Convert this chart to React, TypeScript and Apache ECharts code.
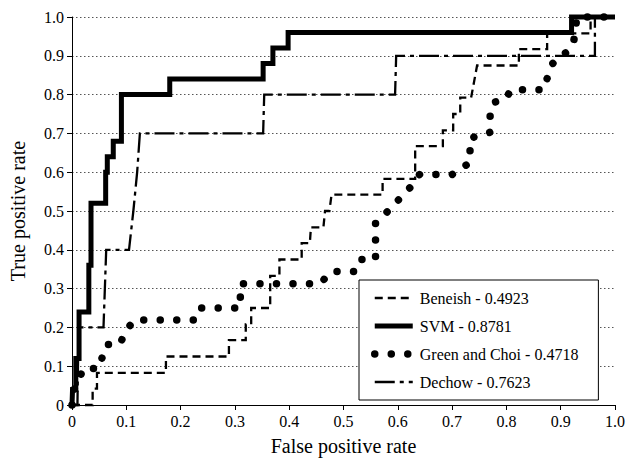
import React, { useEffect, useRef } from "react";
import * as echarts from "echarts";

const FONT = "Liberation Serif";

const legendNames = [
  "Beneish - 0.4923",
  "SVM - 0.8781",
  "Green and Choi - 0.4718",
  "Dechow - 0.7623",
];

const beneishFpr = [0, 0.038, 0.038, 0.046, 0.046, 0.173, 0.173, 0.289, 0.289, 0.32, 0.32, 0.33, 0.33, 0.365, 0.365, 0.382, 0.382, 0.423, 0.423, 0.438, 0.44, 0.463, 0.466, 0.474, 0.478, 0.572, 0.572, 0.632, 0.632, 0.683, 0.683, 0.702, 0.702, 0.715, 0.715, 0.735, 0.746, 0.823, 0.823, 0.875, 0.875, 0.955, 0.955, 1.0];
const beneishTpr = [0, 0, 0.042, 0.042, 0.083, 0.083, 0.125, 0.125, 0.167, 0.167, 0.208, 0.208, 0.25, 0.25, 0.333, 0.333, 0.375, 0.375, 0.417, 0.417, 0.458, 0.458, 0.5, 0.5, 0.542, 0.542, 0.583, 0.583, 0.667, 0.667, 0.708, 0.708, 0.75, 0.75, 0.792, 0.792, 0.875, 0.875, 0.917, 0.917, 0.958, 0.958, 1.0, 1.0];

const svmFpr = [0, 0.001, 0.007, 0.007, 0.013, 0.013, 0.031, 0.031, 0.035, 0.035, 0.062, 0.062, 0.065, 0.065, 0.076, 0.076, 0.091, 0.091, 0.18, 0.18, 0.352, 0.352, 0.37, 0.37, 0.398, 0.398, 0.92, 0.92, 1.0];
const svmTpr = [0, 0.04, 0.04, 0.12, 0.12, 0.24, 0.24, 0.36, 0.36, 0.52, 0.52, 0.6, 0.6, 0.64, 0.64, 0.68, 0.68, 0.8, 0.8, 0.84, 0.84, 0.88, 0.88, 0.92, 0.92, 0.96, 0.96, 1.0, 1.0];

const greenFpr = [0, 0, 0.013, 0.02, 0.05, 0.056, 0.063, 0.088, 0.098, 0.114, 0.224, 0.233, 0.31, 0.31, 0.457, 0.477, 0.521, 0.53, 0.559, 0.559, 0.582, 0.624, 0.64, 0.7, 0.733, 0.733, 0.77, 0.77, 0.776, 0.799, 0.808, 0.869, 0.882, 0.896, 0.914, 0.924, 0.93, 1.0];
const greenTpr = [0, 0.031, 0.0625, 0.094, 0.094, 0.125, 0.156, 0.156, 0.1875, 0.219, 0.219, 0.25, 0.25, 0.3125, 0.3125, 0.344, 0.344, 0.375, 0.375, 0.469, 0.5, 0.5625, 0.594, 0.594, 0.625, 0.6875, 0.703, 0.75, 0.78, 0.788, 0.8125, 0.8125, 0.875, 0.896, 0.912, 0.937, 1.0, 1.0];

const dechowFpr = [0, 0.01, 0.012, 0.058, 0.063, 0.105, 0.113, 0.12, 0.125, 0.352, 0.354, 0.595, 0.597, 0.963, 0.963, 1.0];
const dechowTpr = [0, 0, 0.2, 0.2, 0.4, 0.4, 0.5, 0.6, 0.7, 0.7, 0.8, 0.8, 0.9, 0.9, 1.0, 1.0];

const xTicks = [0, 0.1, 0.2, 0.3, 0.4, 0.5, 0.6, 0.7, 0.8, 0.9, 1.0];

const zip = (a: number[], b: number[]) => a.map((v, i) => [v, b[i]]);
const fmt = (v: number) => (v === 0 ? "0" : v.toFixed(1));

export default function App() {
  const ref = useRef<HTMLDivElement>(null);
  useEffect(() => {
    document.body.style.margin = "0";
    if (!ref.current) return;
    const chart = echarts.init(ref.current, undefined, { renderer: "svg" });
    const styles = [
      { width: 2.3, type: [8, 5] as any, cap: "butt" },
      { width: 5, type: "solid" as any, cap: "butt" },
      { width: 7.5, type: [0.01, 16.5] as any, cap: "round" },
      { width: 2.3, type: [20, 5, 4, 5] as any, cap: "butt" },
    ];
    const datasets = [
      zip(beneishFpr, beneishTpr),
      zip(svmFpr, svmTpr),
      zip(greenFpr, greenTpr),
      zip(dechowFpr, dechowTpr),
    ];
    chart.setOption({
      animation: false,
      backgroundColor: "#fff",
      textStyle: { fontFamily: FONT, color: "#000" },
      grid: { left: 72, right: 13, top: 17, bottom: 58 },
      xAxis: {
        type: "value",
        min: 0,
        max: 1,
        interval: 0.1,
        name: "False positive rate",
        nameLocation: "middle",
        nameGap: 31,
        nameTextStyle: { fontSize: 20, fontFamily: FONT, color: "#000" },
        axisLine: { show: true, lineStyle: { color: "#000", width: 1 } },
        axisTick: { show: true, length: 5, lineStyle: { color: "#000" } },
        axisLabel: {
          fontSize: 16,
          fontFamily: FONT,
          color: "#000",
          margin: 8,
          formatter: (v: number) => fmt(v),
          customValues: xTicks,
        },
        splitLine: { show: false },
      },
      yAxis: {
        type: "value",
        min: 0,
        max: 1,
        interval: 0.1,
        name: "True positive rate",
        nameLocation: "middle",
        nameGap: 44,
        nameTextStyle: { fontSize: 20, fontFamily: FONT, color: "#000" },
        axisLine: { show: true, lineStyle: { color: "#000", width: 1 } },
        axisTick: { show: true, length: 5, lineStyle: { color: "#000" } },
        axisLabel: {
          fontSize: 16,
          fontFamily: FONT,
          color: "#000",
          margin: 8,
          formatter: (v: number) => fmt(v),
        },
        splitLine: {
          show: true,
          lineStyle: { color: "#555", width: 1, type: [1.5, 2.5] },
        },
      },
      legend: {
        orient: "vertical",
        left: 359,
        top: 280,
        itemWidth: 38,
        itemHeight: 16,
        itemGap: 12,
        padding: [10, 20, 10, 12],
        borderColor: "#000",
        borderWidth: 1,
        borderRadius: 0,
        backgroundColor: "#fff",
        textStyle: {
          fontSize: 16,
          fontFamily: FONT,
          color: "#000",
          padding: [0, 0, 0, 2],
        },
        data: legendNames.map((n, i) => ({
          name: n,
          itemStyle: { color: "rgba(0,0,0,0)", borderWidth: 0, opacity: 0 },
          lineStyle: { width: styles[i].width },
        })),
      },
      series: legendNames.map((n, i) => ({
        name: n,
        type: "line",
        data: datasets[i],
        symbol: "none",
        showSymbol: false,
        clip: false,
        silent: true,
        lineStyle: {
          color: "#000",
          width: styles[i].width,
          type: styles[i].type,
          cap: styles[i].cap,
          join: "miter",
        },
        itemStyle: { color: "#000" },
        z: 2 + i,
      })),
    });
    return () => chart.dispose();
  }, []);
  return <div ref={ref} style={{ width: 628, height: 463 }} />;
}
